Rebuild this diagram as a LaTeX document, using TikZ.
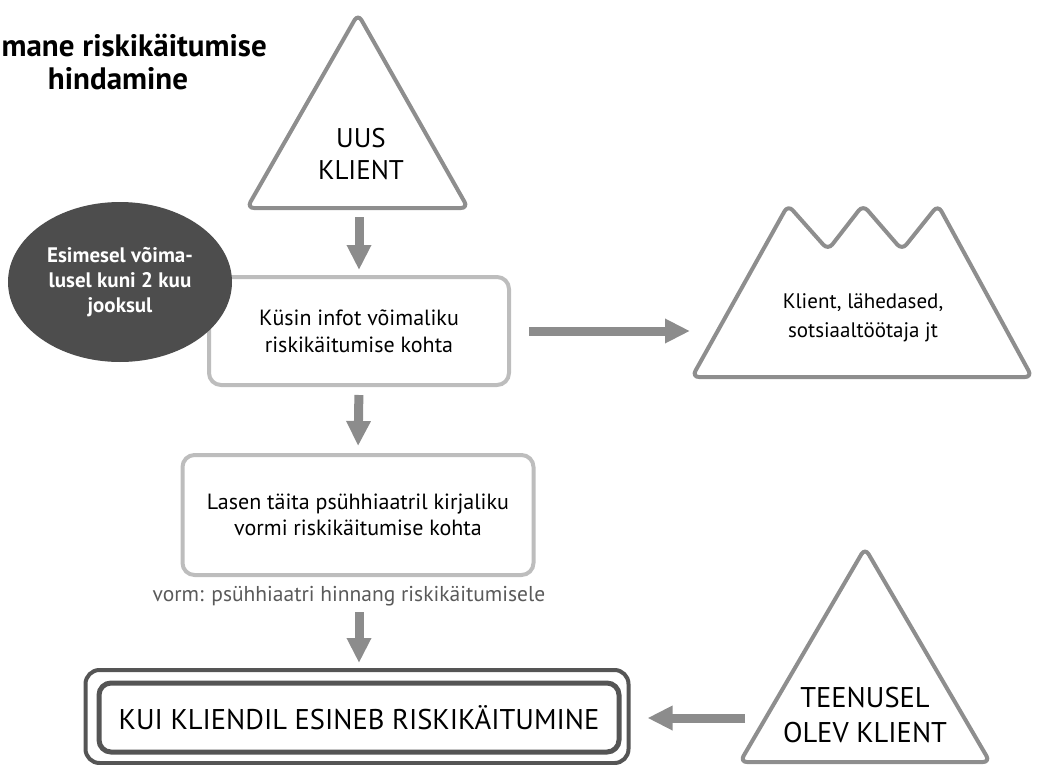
\documentclass[tikz,border=0pt]{standalone}
\usepackage{fontspec}
\setmainfont{PT Sans}
\usetikzlibrary{arrows.meta,shapes.geometric}
\definecolor{arrgray}{HTML}{8C8C8C}
\definecolor{trigray}{HTML}{8E8E8E}
\definecolor{boxgray}{HTML}{BDBDBD}
\definecolor{darkell}{HTML}{4D4D4D}
\definecolor{dblgray}{HTML}{555555}
\definecolor{notegray}{HTML}{5A5A5A}
\begin{document}
\begin{tikzpicture}[x=1pt,y=-1pt,
  outline/.style={draw=trigray, line width=4pt, rounded corners=7pt, line join=round},
  stepbox/.style={draw=boxgray, line width=4pt, rounded corners=12pt, fill=white, align=center, inner sep=0pt},
  bigarrow/.style={draw=arrgray, line width=9pt, -{Triangle[length=25pt,width=23pt]}},
  lbl/.style={align=center, inner sep=0pt},
]
\useasboundingbox (0,0) rectangle (1038,765);

% title
\node[anchor=base east, inner sep=0pt, font=\bfseries\fontsize{31}{36}\selectfont] (title1) at (267,57) {mane riskikäitumise};
\node[anchor=base, inner sep=0pt, font=\bfseries\fontsize{31}{36}\selectfont] (title2) at (118,90) {hindamine};

% new client triangle
\draw[outline] (358,14) -- (468,208) -- (247,208) -- cycle;
\coordinate (uusbase) at (359,208);
\node[lbl, font=\fontsize{27}{32}\selectfont] (uus) at (361,154) {UUS\\KLIENT};

% box 1
\node[stepbox, minimum width=300pt, minimum height=108pt, font=\fontsize{22}{27}\selectfont] (q) at (359,331) {Küsin infot võimaliku\\riskikäitumise kohta};

% ellipse
\node[ellipse, fill=darkell, minimum width=224pt, minimum height=160pt, inner sep=0pt, text=white, align=center, font=\bfseries\fontsize{21}{25}\selectfont] (ell) at (120,282) {Esimesel võima-\\lusel kuni 2 kuu\\jooksul};

% mountain
\draw[outline] (692,377) -- (788,205) -- (828,250) -- (863,205) -- (902,250) -- (938,205) -- (1032,377) -- cycle;
\coordinate (mtleft) at (718,331);
\node[lbl, font=\fontsize{21}{29}\selectfont] (mt) at (863,318) {Klient, lähedased,\\sotsiaaltöötaja jt};

% box 2
\node[stepbox, minimum width=351pt, minimum height=120pt, font=\fontsize{22}{26}\selectfont] (r) at (358,515) {Lasen täita psühhiaatril kirjaliku\\vormi riskikäitumise kohta};

% note
\node[lbl, text=notegray, font=\fontsize{21.5}{24}\selectfont] (vorm) at (349,596) {vorm: psühhiaatri hinnang riskikäitumisele};

% double box
\node[draw=dblgray, line width=4pt, rounded corners=14pt, minimum width=543pt, minimum height=93pt, inner sep=0pt] (outer) at (357,716.5) {};
\node[draw=dblgray, line width=5pt, rounded corners=12pt, minimum width=520pt, minimum height=69pt, inner sep=0pt, font=\fontsize{28.5}{32}\selectfont] (inner) at (359,717.5) {KUI KLIENDIL ESINEB RISKIKÄITUMINE};

% existing client triangle
\draw[outline] (865,548) -- (990,762) -- (740,762) -- cycle;
\coordinate (teeleft) at (766,718);
\node[lbl, font=\fontsize{28.5}{35}\selectfont] (tee) at (865,715) {TEENUSEL\\OLEV KLIENT};

% arrows
\draw[bigarrow, shorten <=9pt, shorten >=5pt] (uusbase) -- (q.north);
\draw[bigarrow, shorten <=8pt, shorten >=7pt] (q.south) -- (r.north);
\draw[bigarrow, shorten <=6pt, shorten >=5pt] (vorm.south -| q.north) -- (q.north |- outer.north);
\draw[bigarrow, shorten <=18pt, shorten >=28pt] (q.east) -- (mtleft);
\draw[bigarrow, shorten <=21pt, shorten >=17pt] (teeleft) -- (outer.east |- teeleft);
\end{tikzpicture}
\end{document}
